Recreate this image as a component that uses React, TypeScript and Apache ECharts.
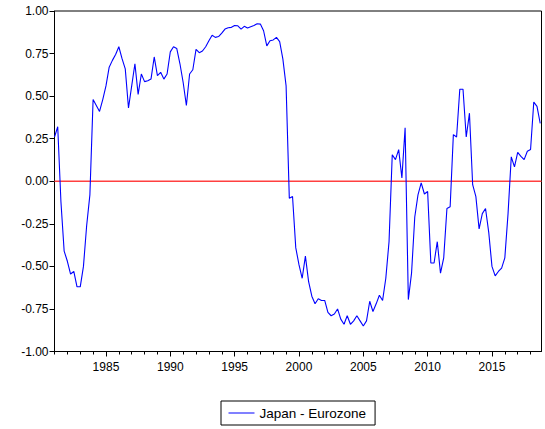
import React, { useEffect, useRef } from "react";
import * as echarts from "echarts";

// Rolling correlation, Japan vs Eurozone, quarterly from 1981Q1
const START_YEAR = 1981;
const END_X = 2018.85;
const SERIES_NAME = "Japan - Eurozone";

const q1980s = [
  0.26, 0.32, -0.12, -0.41, -0.47, -0.545, -0.53, -0.62, -0.62, -0.5, -0.26, -0.08,
  0.48, 0.445, 0.41, 0.48, 0.56, 0.67, 0.71, 0.745, 0.79, 0.72, 0.66, 0.43,
  0.56, 0.69, 0.51, 0.63, 0.585, 0.59, 0.6, 0.73, 0.62, 0.64, 0.6, 0.63,
];
const q1990s = [
  0.76, 0.79, 0.78, 0.69, 0.58, 0.445, 0.63, 0.655, 0.775, 0.755, 0.765, 0.79,
  0.825, 0.858, 0.845, 0.85, 0.87, 0.894, 0.902, 0.904, 0.915, 0.913, 0.894, 0.91,
  0.9, 0.908, 0.915, 0.925, 0.923, 0.884, 0.795, 0.825, 0.83, 0.845, 0.82, 0.717,
  0.56, -0.1, -0.09, -0.39,
];
const q2000s = [
  -0.49, -0.57, -0.44, -0.59, -0.675, -0.72, -0.69, -0.7, -0.7, -0.77, -0.79, -0.78,
  -0.75, -0.81, -0.84, -0.79, -0.84, -0.82, -0.79, -0.82, -0.85, -0.82, -0.705, -0.765,
  -0.72, -0.67, -0.7, -0.57, -0.355, 0.156, 0.127, 0.186, 0.02, 0.314, -0.695, -0.54,
  -0.21, -0.08, -0.01, -0.075,
];
const q2010s = [
  -0.06, -0.48, -0.48, -0.355, -0.54, -0.45, -0.16, -0.15, 0.274, 0.26, 0.54, 0.54,
  0.26, 0.4, -0.02, -0.09, -0.28, -0.19, -0.16, -0.3, -0.5, -0.556, -0.53, -0.51,
  -0.45, -0.19, 0.143, 0.084, 0.17, 0.146, 0.127, 0.176, 0.186, 0.465, 0.44, 0.34,
];

const xLabelYears = [1985, 1990, 1995, 2000, 2005, 2010, 2015];
const xMinorYears = Array.from({ length: 38 }, (_, i) => START_YEAR + i);

const values = [...q1980s, ...q1990s, ...q2000s, ...q2010s];
const points = values.map((v, i) => [START_YEAR + i / 4, v]);
const zeroLine = [
  [START_YEAR, 0],
  [END_X, 0],
];

const FONT = "'Liberation Sans', Arial, sans-serif";

export default function App() {
  const ref = useRef<HTMLDivElement>(null);

  useEffect(() => {
    if (!ref.current) return;
    const chart = echarts.init(ref.current, null, { renderer: "svg" });
    chart.setOption({
      animation: false,
      backgroundColor: "#ffffff",
      textStyle: { fontFamily: FONT },
      grid: {
        left: 54.5,
        right: 3.5,
        top: 11,
        bottom: 77.5,
        show: true,
        borderColor: "#000",
        borderWidth: 1,
        backgroundColor: "transparent",
      },
      xAxis: [
        {
          type: "value",
          min: START_YEAR,
          max: END_X,
          axisLine: { show: true, onZero: false, lineStyle: { color: "#000", width: 1 } },
          axisTick: {
            show: true,
            customValues: xMinorYears,
            length: 3,
            lineStyle: { color: "#000" },
          },
          axisLabel: {
            customValues: xLabelYears,
            color: "#000",
            fontSize: 12,
            fontFamily: FONT,
            margin: 9,
            formatter: (v: number) => String(Math.round(v)),
          },
          splitLine: { show: false },
        },
        {
          type: "value",
          min: START_YEAR,
          max: END_X,
          position: "bottom",
          axisLine: { show: false, onZero: false },
          axisTick: {
            show: true,
            customValues: xLabelYears,
            length: 5,
            lineStyle: { color: "#000" },
          },
          axisLabel: { show: false },
          splitLine: { show: false },
        },
      ],
      yAxis: {
        type: "value",
        min: -1,
        max: 1,
        interval: 0.25,
        axisLine: { show: true, onZero: false, lineStyle: { color: "#000" } },
        axisTick: { show: true, length: 5, lineStyle: { color: "#000" } },
        axisLabel: {
          color: "#000",
          fontSize: 12,
          fontFamily: FONT,
          margin: 6,
          formatter: (v: number) => v.toFixed(2),
        },
        splitLine: { show: false },
      },
      legend: {
        data: [SERIES_NAME],
        left: 221,
        top: 401,
        orient: "horizontal",
        borderColor: "#000",
        borderWidth: 1,
        padding: [4, 9, 4, 7.5],
        icon: "rect",
        itemWidth: 26,
        itemHeight: 1,
        itemGap: 0,
        textStyle: { color: "#000", fontSize: 13.5, lineHeight: 16, fontFamily: FONT },
      },
      series: [
        {
          name: "zero",
          type: "line",
          data: zeroLine,
          showSymbol: false,
          symbol: "none",
          silent: true,
          lineStyle: { color: "#ff4040", width: 1.5 },
          itemStyle: { color: "#ff4040" },
          z: 2,
        },
        {
          name: SERIES_NAME,
          type: "line",
          data: points,
          showSymbol: false,
          symbol: "none",
          lineStyle: { color: "#0000ff", width: 1.1 },
          itemStyle: { color: "#0000ff" },
          z: 3,
        },
      ],
    });
    return () => chart.dispose();
  }, []);

  return (
    <div
      ref={ref}
      style={{ position: "fixed", left: 0, top: 0, width: 545, height: 429 }}
    />
  );
}
